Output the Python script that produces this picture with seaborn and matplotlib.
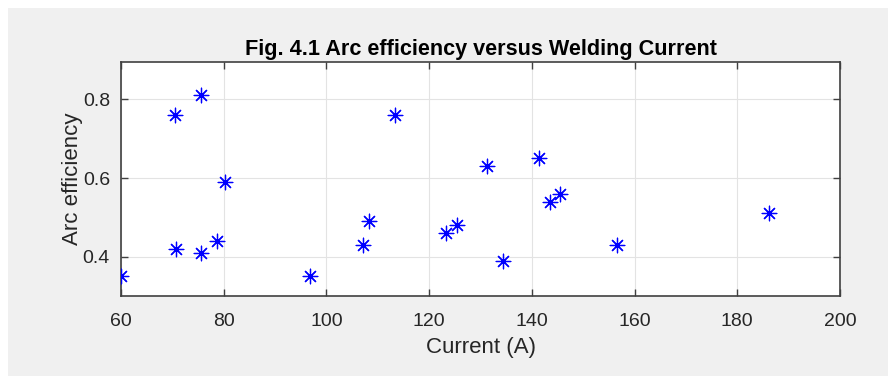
import matplotlib
matplotlib.use("Agg")
import matplotlib.pyplot as plt
import seaborn as sns
import pandas as pd
from matplotlib.patches import Rectangle

current = [60, 70.5, 75.5, 70.8, 75.5, 78.6, 80.3, 96.8, 107.2, 108.2, 113.3,
           123.2, 125.4, 131.2, 134.4, 141.3, 143.6, 145.5, 156.6, 186.2]
efficiency = [0.35, 0.76, 0.81, 0.42, 0.41, 0.44, 0.59, 0.35, 0.43, 0.49, 0.76,
              0.46, 0.48, 0.63, 0.39, 0.65, 0.54, 0.56, 0.43, 0.51]
x_ticks = [60, 80, 100, 120, 140, 160, 180, 200]
y_ticks = [0.4, 0.6, 0.8]

df = pd.DataFrame({"Current (A)": current, "Arc efficiency": efficiency})

sns.set_style("white")
plt.rcParams["font.family"] = ["Liberation Sans", "DejaVu Sans"]

fig = plt.figure(figsize=(8.88, 3.76), dpi=100)
fig.patch.set_facecolor("white")
fig.patches.append(Rectangle((8 / 888, 0), 1, 1 - 8 / 376, transform=fig.transFigure,
                             facecolor="#f0f0f0", edgecolor="none", zorder=-10))
ax = fig.add_axes([121 / 888, 1 - 296 / 376, (840 - 121) / 888, (296 - 62) / 376])
ax.set_facecolor("white")

sns.scatterplot(data=df, x="Current (A)", y="Arc efficiency", ax=ax,
                marker=(8, 2, 0), s=110, color="blue", linewidth=0.9, zorder=3)

ax.set_xlim(60, 200)
ax.set_ylim(0.3, 0.895)
ax.set_xticks(x_ticks)
ax.set_yticks(y_ticks)
ax.set_yticklabels([f"{v:.1f}" for v in y_ticks])
ax.grid(True, color="#e3e3e3", linewidth=0.8)
ax.set_axisbelow(True)
ax.tick_params(direction="in", length=5, width=1, colors="#404040",
               labelcolor="#262626", labelsize=14, top=True, right=True,
               bottom=True, left=True, pad=8)
ax.tick_params(axis="x", pad=12)
for sp in ax.spines.values():
    sp.set_color("#404040")
    sp.set_linewidth(1.2)
    sp.set_visible(True)

ax.set_xlabel("Current (A)", fontsize=16, color="#262626", labelpad=5)
ax.set_ylabel("Arc efficiency", fontsize=16, color="#262626", labelpad=0)
ax.set_title("Fig. 4.1 Arc efficiency versus Welding Current", fontsize=15.6,
             fontweight="bold", color="black", pad=5)

fig.savefig("out.png", dpi=100, facecolor=fig.get_facecolor())
